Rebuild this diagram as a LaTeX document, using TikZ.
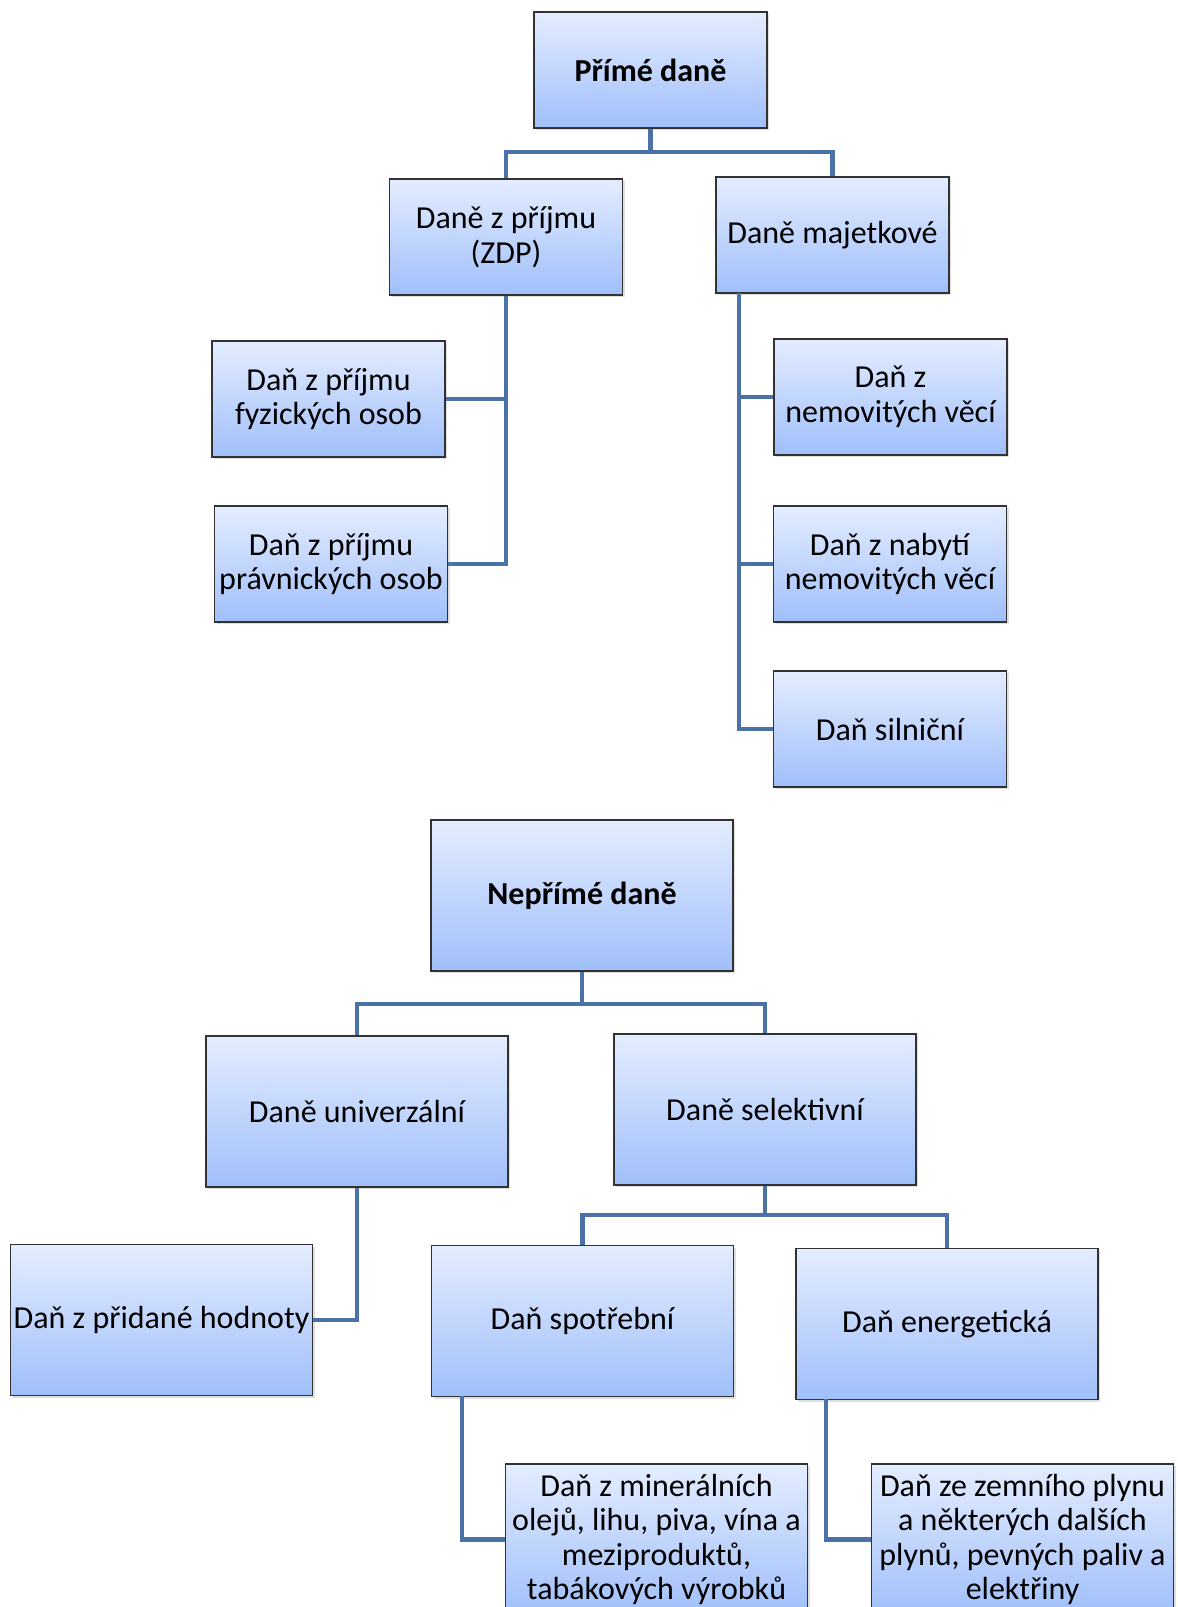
\documentclass[tikz,border=0pt]{standalone}
\usepackage{fontspec}
\setmainfont{Carlito}
\usepackage{tikz}
\usetikzlibrary{positioning, shadows, calc}

\definecolor{linkblue}{RGB}{74,114,166}
\definecolor{boxtop}{RGB}{228,237,255}
\definecolor{boxbottom}{RGB}{160,191,250}
\definecolor{boxedge}{RGB}{50,50,50}

\tikzset{
  dbox/.style={draw=boxedge, line width=1.3pt, top color=boxtop, bottom color=boxbottom,
    align=center, inner sep=1pt, font=\fontsize{32}{34.5}\selectfont,
    drop shadow={shadow xshift=2pt, shadow yshift=-2pt, opacity=0.25, fill=gray}},
  small/.style={dbox, minimum width=233pt, minimum height=116pt},
  big/.style={dbox, minimum width=302pt, minimum height=151pt},
  link/.style={draw=linkblue, line width=4.5pt}
}

\begin{document}
\begin{tikzpicture}[x=1pt, y=-1pt]
\fill[white] (0,0) rectangle (1178,1607);
\clip (0,0) rectangle (1178,1607);

% Prime dane
\node[small] (prime) at (650.5,70) {\textbf{Přímé daně}};
\node[small] (zdp) at (506,237) {Daně z příjmu\\(ZDP)};
\node[small] (majet) at (832.5,235) {Daně majetkové};
\node[small] (fyz) at (328.5,399) {Daň z příjmu\\fyzických osob};
\node[small] (prav) at (331,564) {Daň z příjmu\\právnických osob};
\node[small] (nemov) at (890.5,397) {Daň z\\nemovitých věcí};
\node[small] (nabyti) at (890,564) {Daň z nabytí\\nemovitých věcí};
\node[small] (silnic) at (890,729) {Daň silniční};

\coordinate (j1) at (650.5,152);
\draw[link] (prime.south) -- (j1) -| (zdp.north);
\draw[link] (j1) -| (majet.north);
\draw[link] (zdp.south) |- (prav.east);
\draw[link] (zdp.south |- fyz.east) -- (fyz.east);
\coordinate (mj) at (739,293);
\draw[link] (mj) |- (silnic.west);
\draw[link] (mj |- nemov.west) -- (nemov.west);
\draw[link] (mj |- nabyti.west) -- (nabyti.west);

% Neprime dane
\node[big] (neprime) at (582,895.5) {\textbf{Nepřímé daně}};
\node[big] (univ) at (357,1111.5) {Daně univerzální};
\node[big] (selek) at (765,1109.5) {Daně selektivní};
\node[big] (dph) at (161.5,1320) {Daň z přidané hodnoty};
\node[big] (spotr) at (582.5,1321) {Daň spotřební};
\node[big] (energ) at (947,1324) {Daň energetická};
\node[big] (miner) at (656.5,1539.5) {Daň z minerálních\\olejů, lihu, piva, vína a\\meziproduktů,\\tabákových výrobků};
\node[big] (zemni) at (1022.5,1539.5) {Daň ze zemního plynu\\a některých dalších\\plynů, pevných paliv a\\elektřiny};

\coordinate (j2) at (582,1004);
\draw[link] (neprime.south) -- (j2) -| (univ.north);
\draw[link] (j2) -| (selek.north);
\draw[link] (univ.south) |- (dph.east);
\coordinate (j3) at (765,1215);
\draw[link] (selek.south) -- (j3) -| (spotr.north);
\draw[link] (j3) -| (energ.north);
\coordinate (sp) at (462,1396);
\draw[link] (sp) |- (miner.west);
\coordinate (en) at (826,1399);
\draw[link] (en) |- (zemni.west);
\end{tikzpicture}
\end{document}
